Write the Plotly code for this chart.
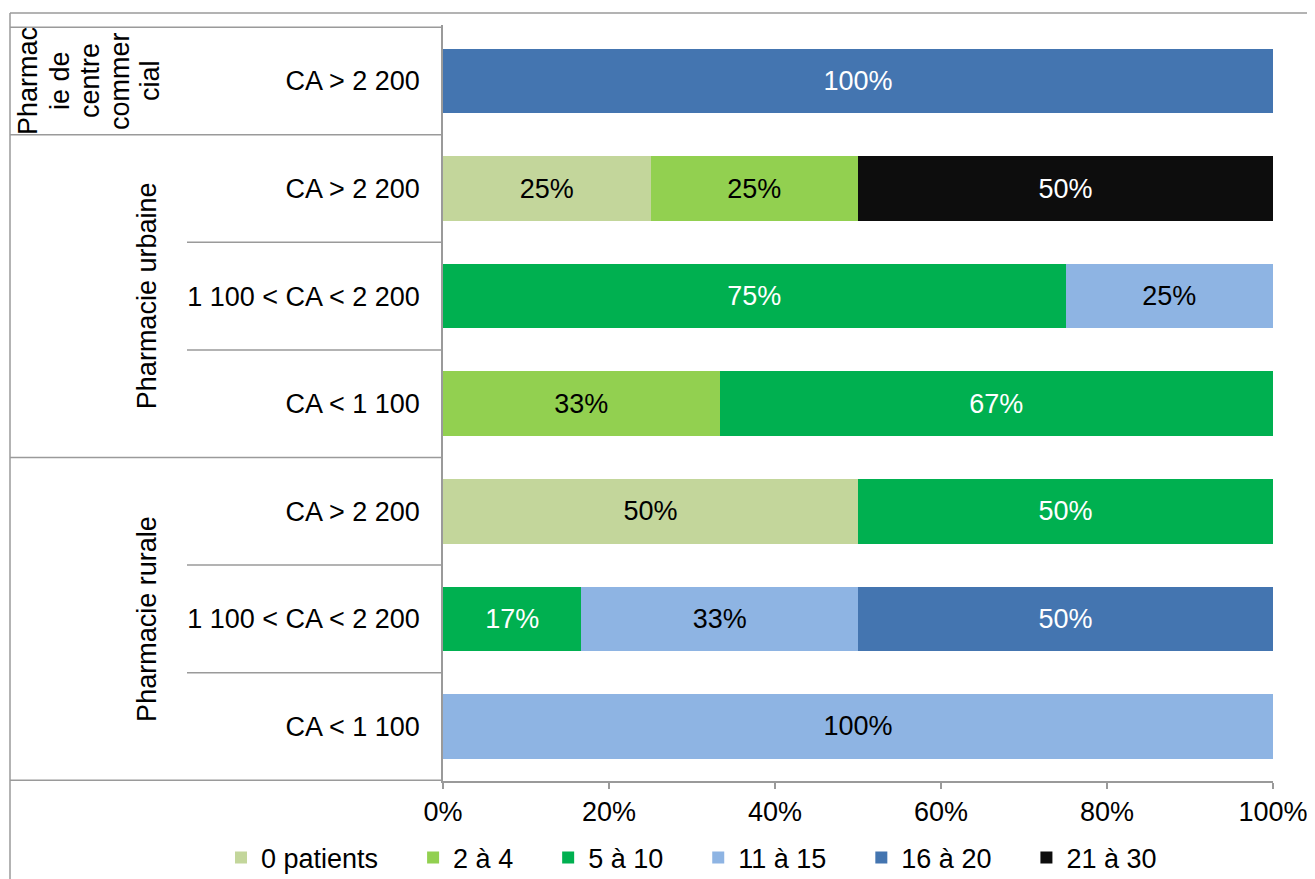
import plotly.graph_objects as go

# ---------------- data ----------------
groups = ["Pharmacie de centre commercial", "Pharmacie urbaine", "Pharmacie urbaine",
          "Pharmacie urbaine", "Pharmacie rurale", "Pharmacie rurale", "Pharmacie rurale"]
subcats = ["CA > 2 200", "CA > 2 200", "1 100 < CA < 2 200", "CA < 1 100",
           "CA > 2 200", "1 100 < CA < 2 200", "CA < 1 100"]
series_names = ["0 patients", "2 à 4", "5 à 10", "11 à 15", "16 à 20", "21 à 30"]
v_0_patients = [None, 25, None, None, 50, None, None]
v_2_a_4 = [None, 25, None, 33.33, None, None, None]
v_5_a_10 = [None, None, 75, 66.67, 50, 16.67, None]
v_11_a_15 = [None, None, 25, None, None, 33.33, 100]
v_16_a_20 = [100, None, None, None, None, 50, None]
v_21_a_30 = [None, 50, None, None, None, None, None]
x_ticks = [0, 20, 40, 60, 80, 100]
x_tick_labels = ["0%", "20%", "40%", "60%", "80%", "100%"]
centre_label_lines = ["Pharmac", "ie de", "centre", "commer", "cial"]

# ---------------- styling ----------------
colors = ["#C3D69B", "#92D050", "#00B050", "#8EB4E3", "#4475B0", "#0D0D0D"]
text_colors = ["black", "black", "white", "black", "white", "white"]
FONT = "Liberation Sans, Arial, sans-serif"
FS = 27
GRAY = "#9A9A9A"

OFF = 8  # page body margin
W, H = 1315 - OFF, 879 - OFF
L, R, T, B = 443 - OFF, 1273 - OFF, 25 - OFF, 781 - OFF


def xp(px):
    """figure pixel x -> paper"""
    return (px - L) / (R - L)


def yp(py):
    """figure pixel y -> paper"""
    return (B - py) / (B - T)


row_ids = [f"{g} | {s}" for g, s in zip(groups, subcats)]
values = [v_0_patients, v_2_a_4, v_5_a_10, v_11_a_15, v_16_a_20, v_21_a_30]
legend_pad = "\u00a0" * 4

fig = go.Figure()
for i, (name, vals, col, tcol) in enumerate(zip(series_names, values, colors, text_colors)):
    label = name + (legend_pad if i < len(series_names) - 1 else "")
    fig.add_trace(go.Bar(
        y=row_ids, x=vals, name=label, orientation="h",
        marker=dict(color=col, line=dict(width=0)),
        texttemplate="%{x:.0f}%", textposition="inside", insidetextanchor="middle",
        textfont=dict(family=FONT, size=FS, color=tcol),
        hoverinfo="x+name",
    ))

shapes = []
# top chart border and left border
shapes.append(dict(type="line", xref="paper", yref="paper", x0=xp(2), x1=xp(W + 5),
                   y0=yp(5), y1=yp(5), line=dict(color=GRAY, width=1.5)))
shapes.append(dict(type="line", xref="paper", yref="paper", x0=xp(2), x1=xp(2),
                   y0=yp(5), y1=yp(H + 5), line=dict(color=GRAY, width=1.5)))
# group dividers (full width of category area)
for yb in [-0.5, 0.5, 3.5, 6.5]:
    shapes.append(dict(type="line", xref="paper", yref="y", x0=xp(2), x1=0,
                       y0=yb, y1=yb, line=dict(color=GRAY, width=1.5)))
# sub-category dividers
for yb in [1.5, 2.5, 4.5, 5.5]:
    shapes.append(dict(type="line", xref="paper", yref="y", x0=xp(179), x1=0,
                       y0=yb, y1=yb, line=dict(color=GRAY, width=1.5)))

annotations = []
centre_x = [20, 52, 82, 112, 142]
for line, cx in zip(centre_label_lines, centre_x):
    annotations.append(dict(text=line, xref="paper", yref="y", x=xp(cx), y=0,
                            textangle=-90, showarrow=False, xanchor="center", yanchor="middle",
                            font=dict(family=FONT, size=FS, color="black")))
annotations.append(dict(text="Pharmacie urbaine", xref="paper", yref="y", x=xp(139), y=2,
                        textangle=-90, showarrow=False, xanchor="center", yanchor="middle",
                        font=dict(family=FONT, size=FS, color="black")))
annotations.append(dict(text="Pharmacie rurale", xref="paper", yref="y", x=xp(139), y=5,
                        textangle=-90, showarrow=False, xanchor="center", yanchor="middle",
                        font=dict(family=FONT, size=FS, color="black")))

fig.update_layout(
    width=W, height=H,
    barmode="stack", bargap=0.4,
    margin=dict(l=L, r=W - R, t=T, b=H - B, pad=0, autoexpand=False),
    paper_bgcolor="white", plot_bgcolor="white",
    font=dict(family=FONT, size=FS, color="black"),
    showlegend=True,
    legend=dict(orientation="h", x=xp(213), xanchor="left", y=yp(850), yanchor="middle",
                font=dict(family=FONT, size=FS, color="black"), traceorder="normal",
                itemwidth=30, bgcolor="rgba(0,0,0,0)"),
    xaxis=dict(range=[0, 100], tickvals=x_ticks, ticktext=x_tick_labels,
               showgrid=False, zeroline=False, showline=True, linecolor=GRAY, linewidth=1.5,
               ticks="outside", ticklen=6, tickcolor=GRAY, tickwidth=1.5,
               tickfont=dict(family=FONT, size=FS, color="black")),
    yaxis=dict(type="category", categoryorder="array", categoryarray=row_ids,
               autorange="reversed", tickvals=row_ids, ticktext=subcats,
               showgrid=False, zeroline=False, showline=True, linecolor=GRAY, linewidth=1.5,
               ticks="", ticklabelstandoff=16,
               tickfont=dict(family=FONT, size=FS, color="black")),
    shapes=shapes, annotations=annotations,
)

fig.write_html("out.html")
